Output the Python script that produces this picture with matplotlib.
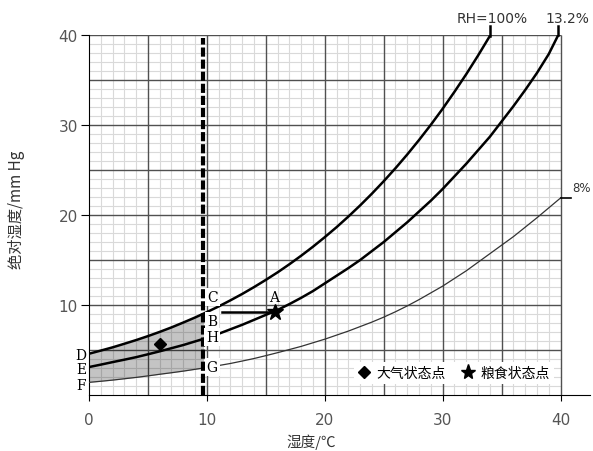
import numpy as np
import matplotlib
matplotlib.use("Agg")
from matplotlib import pyplot as plt
from matplotlib.lines import Line2D
from matplotlib.patches import Rectangle

plt.rcParams['font.family'] = ['DejaVu Sans', 'Noto Sans CJK SC']
cjk = ['Noto Sans CJK SC', 'DejaVu Sans']

# saturation curve (RH=100%), mm Hg, read every 1 degC
t_sat = list(range(0, 35))
p_sat = [4.58, 4.93, 5.29, 5.69, 6.10, 6.54, 7.01, 7.51, 8.05, 8.61,
         9.21, 9.84, 10.52, 11.23, 11.99, 12.79, 13.63, 14.53, 15.48, 16.48,
         17.54, 18.65, 19.83, 21.07, 22.38, 23.76, 25.21, 26.74, 28.35, 30.04,
         31.82, 33.70, 35.66, 37.73, 39.90]

# grain equilibrium curve, 13.2% moisture
t_g132 = list(range(0, 40)) + [39.8]
p_g132 = [3.1, 3.37, 3.65, 3.92, 4.2, 4.52, 4.85, 5.2, 5.55, 5.95,
          6.35, 6.8, 7.3, 7.8, 8.35, 8.9, 9.45, 10.1, 10.8, 11.55,
          12.4, 13.25, 14.1, 15.0, 16.0, 17.0, 18.1, 19.2, 20.4, 21.6,
          22.9, 24.3, 25.7, 27.2, 28.7, 30.4, 32.1, 33.9, 35.8, 37.9, 40.0]

# grain equilibrium curve, 8% moisture
t_g8 = list(range(0, 41))
p_g8 = [1.4, 1.52, 1.65, 1.8, 1.95, 2.12, 2.3, 2.47, 2.65, 2.85,
        3.05, 3.27, 3.5, 3.77, 4.05, 4.37, 4.7, 5.05, 5.4, 5.8,
        6.2, 6.65, 7.1, 7.6, 8.1, 8.65, 9.25, 9.9, 10.6, 11.35,
        12.1, 12.95, 13.8, 14.75, 15.7, 16.65, 17.6, 18.65, 19.7, 20.8, 21.9]

air_point = (6.0, 5.7)      # 大气状态点
grain_point = (15.76, 9.26)  # 粮食状态点 A
t_air = 9.7                 # dashed line, air temperature

fig = plt.figure(figsize=(5.93, 4.52), dpi=100)
ax = fig.add_axes([0.150, 0.124, 0.845, 0.796])
ax.set_xlim(0, 42.5)
ax.set_ylim(0, 40)

# graph paper grid
for v in range(0, 41):
    if v % 5 == 0:
        continue
    ax.vlines(v, 0, 40, color='#d9d9d9', lw=0.8, zorder=1)
    ax.hlines(v, 0, 40, color='#d9d9d9', lw=0.8, zorder=1)
for v in range(5, 41, 5):
    ax.vlines(v, 0, 40, color='#505050', lw=1.0, zorder=2)
    ax.hlines(v, 0, 40, color='#505050', lw=1.0, zorder=2)

# shaded band left of the dashed line
band = ax.fill_between(t_sat, p_g8[:len(t_sat)], p_sat, color='black',
                       alpha=0.23, lw=0, zorder=3)
band.set_clip_path(Rectangle((0, 0), t_air, 40, transform=ax.transData))

ax.plot(t_sat, p_sat, color='black', lw=1.8, zorder=4)
ax.plot(t_g132, p_g132, color='black', lw=1.8, zorder=4)
ax.plot(t_g8, p_g8, color='#333333', lw=0.9, zorder=4)

ax.plot([t_air, t_air], [0, 39.7], color='black', lw=3, dashes=(2.2, 0.7), zorder=5)

# label leaders
ax.plot([t_sat[-1], t_sat[-1]], [p_sat[-1], 41.0], color='black', lw=1.8, clip_on=False, zorder=4)
ax.plot([t_g132[-1], t_g132[-1]], [p_g132[-1], 41.0], color='black', lw=1.8, clip_on=False, zorder=4)
ax.plot([t_g8[-1], 40.9], [p_g8[-1], p_g8[-1]], color='black', lw=1.2, clip_on=False, zorder=4)
ax.text(34.2, 41.9, 'RH=100%', ha='center', va='center', fontsize=10, color='#333333')
ax.text(40.55, 41.9, '13.2%', ha='center', va='center', fontsize=10, color='#333333')
ax.text(41.0, 23.05, '8%', ha='left', va='center', fontsize=8.5, color='#333333')

# B -> A
ax.plot([11.3, grain_point[0]], [grain_point[1], grain_point[1]], color='black', lw=1.8, zorder=5)
ax.plot(*air_point, marker='D', color='black', ms=6, zorder=6)
ax.plot(*grain_point, marker='*', color='black', ms=12, zorder=6)

box = dict(facecolor='white', edgecolor='none', pad=1.5)
for lab, yy in [('C', 10.85), ('B', 8.26), ('H', 6.4), ('G', 3.07)]:
    ax.text(10.45, yy, lab, ha='center', va='center', fontsize=10, family='DejaVu Serif',
            bbox=box, zorder=7)
ax.text(15.7, 10.85, 'A', ha='center', va='center', fontsize=10, family='DejaVu Serif', zorder=7)
for lab, yy in [('D', 4.44), ('E', 2.89), ('F', 1.11)]:
    ax.text(-0.68, yy, lab, ha='center', va='center', fontsize=10, family='DejaVu Serif',
            clip_on=False)

handles = [Line2D([], [], ls='none', marker='D', color='black', ms=6),
           Line2D([], [], ls='none', marker='*', color='black', ms=11)]
leg = ax.legend(handles, ['大气状态点', '粮食状态点'], ncol=2, loc='center',
                bbox_to_anchor=(0.729, 0.061), frameon=True, fancybox=False,
                handlelength=0.8, handletextpad=0.5, columnspacing=1.2,
                borderpad=0.3, prop={'family': cjk, 'size': 10})
leg.get_frame().set_edgecolor('none')
leg.get_frame().set_facecolor('white')
leg.get_frame().set_alpha(1)
leg.set_zorder(8)

ax.spines['top'].set_visible(False)
ax.spines['right'].set_visible(False)
ax.spines['left'].set_bounds(0, 40)
ax.set_xticks([0, 10, 20, 30, 40])
ax.set_yticks([10, 20, 30, 40])
ax.tick_params(axis='x', length=4, pad=8, labelsize=11, labelcolor='#555555')
ax.tick_params(axis='y', length=6, pad=2, labelsize=11, labelcolor='#555555')

fig.text(17 / 593, 1 - 210 / 452, '绝对湿度/mm Hg', rotation=90, ha='center', va='center',
         fontsize=11, family=cjk, color='#333333')
fig.text(311 / 593, 1 - 442 / 452, '湿度/℃', ha='center', va='center',
         fontsize=10.5, family=cjk, color='#333333')

fig.savefig('out.png', dpi=100)
